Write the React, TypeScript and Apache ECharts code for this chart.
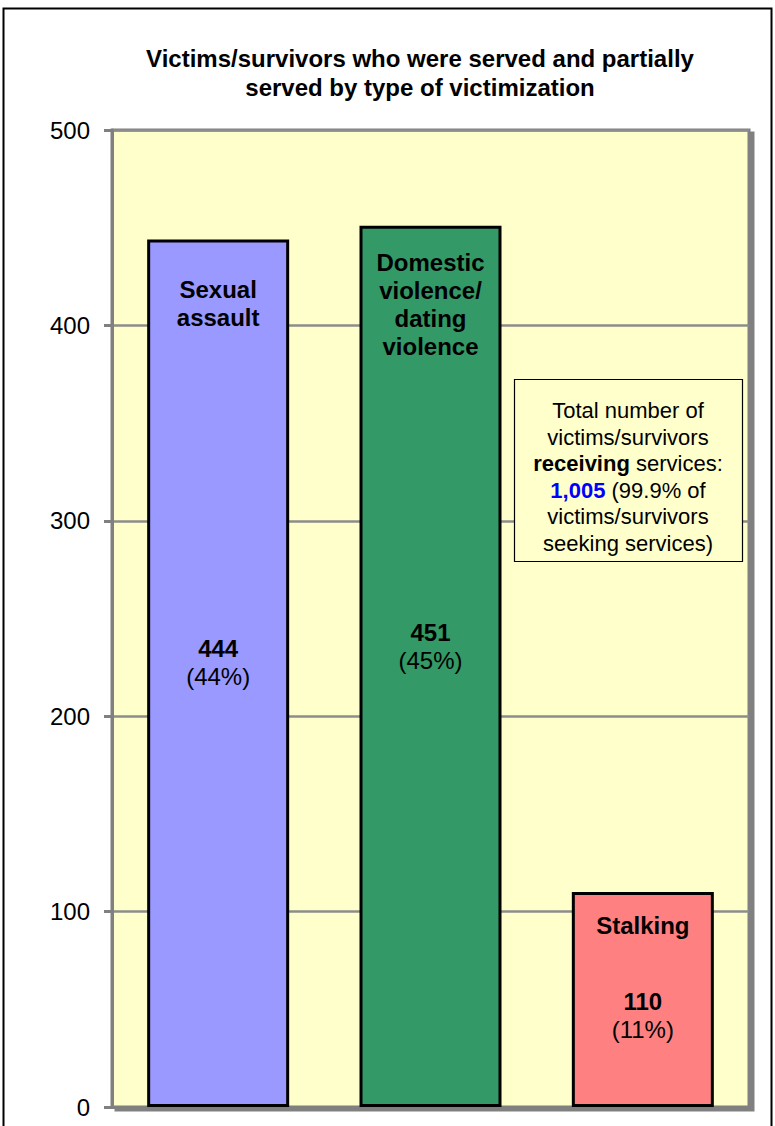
import React, { useEffect, useRef } from "react";
import * as echarts from "echarts";

const categories = ["Sexual assault", "Domestic violence/ dating violence", "Stalking"];
const nameLines = ["Sexual\nassault", "Domestic\nviolence/\ndating\nviolence", "Stalking"];
const values = [444, 451, 110];
const percents = ["44%", "45%", "11%"];
const colors = ["#9999FF", "#339966", "#FF8080"];
const nameDistance = [36, 23, 19];
const valueOffset = [-11, -20, 16];
const yTicks = [0, 100, 200, 300, 400, 500];
const noteLines = [
  "Total number of",
  "victims/survivors",
  "{b|receiving} services:",
  "{blue|1,005} (99.9% of",
  "victims/survivors",
  "seeking services)",
];

const FONT = "'Liberation Sans', Arial, sans-serif";

export default function App() {
  const ref = useRef<HTMLDivElement>(null);
  useEffect(() => {
    if (!ref.current) return;
    const chart = echarts.init(ref.current, undefined, { renderer: "svg" });
    const option: any = {
      animation: false,
      backgroundColor: "#ffffff",
      textStyle: { fontFamily: FONT },
      grid: {
        left: 112,
        top: 130,
        right: 26,
        bottom: 19,
        show: true,
        backgroundColor: "#FFFFCC",
        borderColor: "#808080",
        borderWidth: 3,
        shadowColor: "#808080",
        shadowBlur: 0,
        shadowOffsetX: 4,
        shadowOffsetY: 3,
      },
      xAxis: {
        type: "category",
        data: categories,
        axisLine: { show: true, lineStyle: { color: "#808080", width: 3 } },
        axisTick: { show: false },
        axisLabel: { show: false },
      },
      yAxis: {
        type: "value",
        min: yTicks[0],
        max: yTicks[yTicks.length - 1],
        interval: 100,
        axisLine: { show: true, lineStyle: { color: "#808080", width: 3 } },
        axisTick: { show: true, length: 8, lineStyle: { color: "#808080", width: 3 } },
        axisLabel: { color: "#000", fontSize: 24, fontFamily: FONT, margin: 22 },
        splitLine: { show: true, lineStyle: { color: "#8c8c8c", width: 2.5 } },
      },
      series: [
        {
          type: "bar",
          barWidth: 142,
          barGap: "-100%",
          z: 2,
          data: values.map((v, i) => ({
            value: v,
            itemStyle: { color: colors[i], borderColor: "#000", borderWidth: 3 },
            label: {
              show: true,
              position: "inside",
              offset: [0, valueOffset[i]],
              formatter: `{v|${v}}\n{p|(${percents[i]})}`,
              rich: {
                v: { fontSize: 24, fontWeight: "bold", color: "#000", lineHeight: 28, fontFamily: FONT, align: "center" },
                p: { fontSize: 24, color: "#000", lineHeight: 28, fontFamily: FONT, align: "center" },
              },
            },
          })),
        },
        {
          type: "bar",
          barWidth: 142,
          barGap: "-100%",
          z: 3,
          silent: true,
          data: values.map((v, i) => ({
            value: v,
            itemStyle: { color: "rgba(0,0,0,0)" },
            label: {
              show: true,
              position: "insideTop",
              distance: nameDistance[i],
              formatter: nameLines[i],
              fontSize: 24,
              fontWeight: "bold",
              lineHeight: 28,
              color: "#000",
              fontFamily: FONT,
              align: "center",
            },
          })),
        },
      ],
      graphic: [
        {
          type: "rect",
          z: 100,
          shape: { x: 3.5, y: 8.5, width: 768, height: 1140 },
          style: { fill: "none", stroke: "#000", lineWidth: 2 },
        },
        {
          type: "text",
          z: 100,
          x: 420,
          y: 72.5,
          style: {
            text: "Victims/survivors who were served and partially\nserved by type of victimization",
            font: `bold 24px ${FONT}`,
            fill: "#000",
            textAlign: "center",
            textVerticalAlign: "middle",
            lineHeight: 29,
          },
        },
        {
          type: "rect",
          z: 100,
          shape: { x: 514.5, y: 379.5, width: 228, height: 182 },
          style: { fill: "#FFFFCC", stroke: "#000", lineWidth: 1.2 },
        },
        {
          type: "text",
          z: 101,
          x: 628,
          y: 477,
          style: {
            text: noteLines.join("\n"),
            font: `22px ${FONT}`,
            fill: "#000",
            textAlign: "center",
            textVerticalAlign: "middle",
            lineHeight: 26.5,
            rich: {
              b: { fontWeight: "bold", fontSize: 22, fontFamily: FONT, fill: "#000", lineHeight: 26.5 },
              blue: { fontWeight: "bold", fontSize: 22, fontFamily: FONT, fill: "#0000FF", lineHeight: 26.5 },
            },
          },
        },
      ],
    };
    chart.setOption(option);
    return () => chart.dispose();
  }, []);
  return (
    <div
      ref={ref}
      style={{ position: "fixed", left: 0, top: 0, width: 775, height: 1126 }}
    />
  );
}
